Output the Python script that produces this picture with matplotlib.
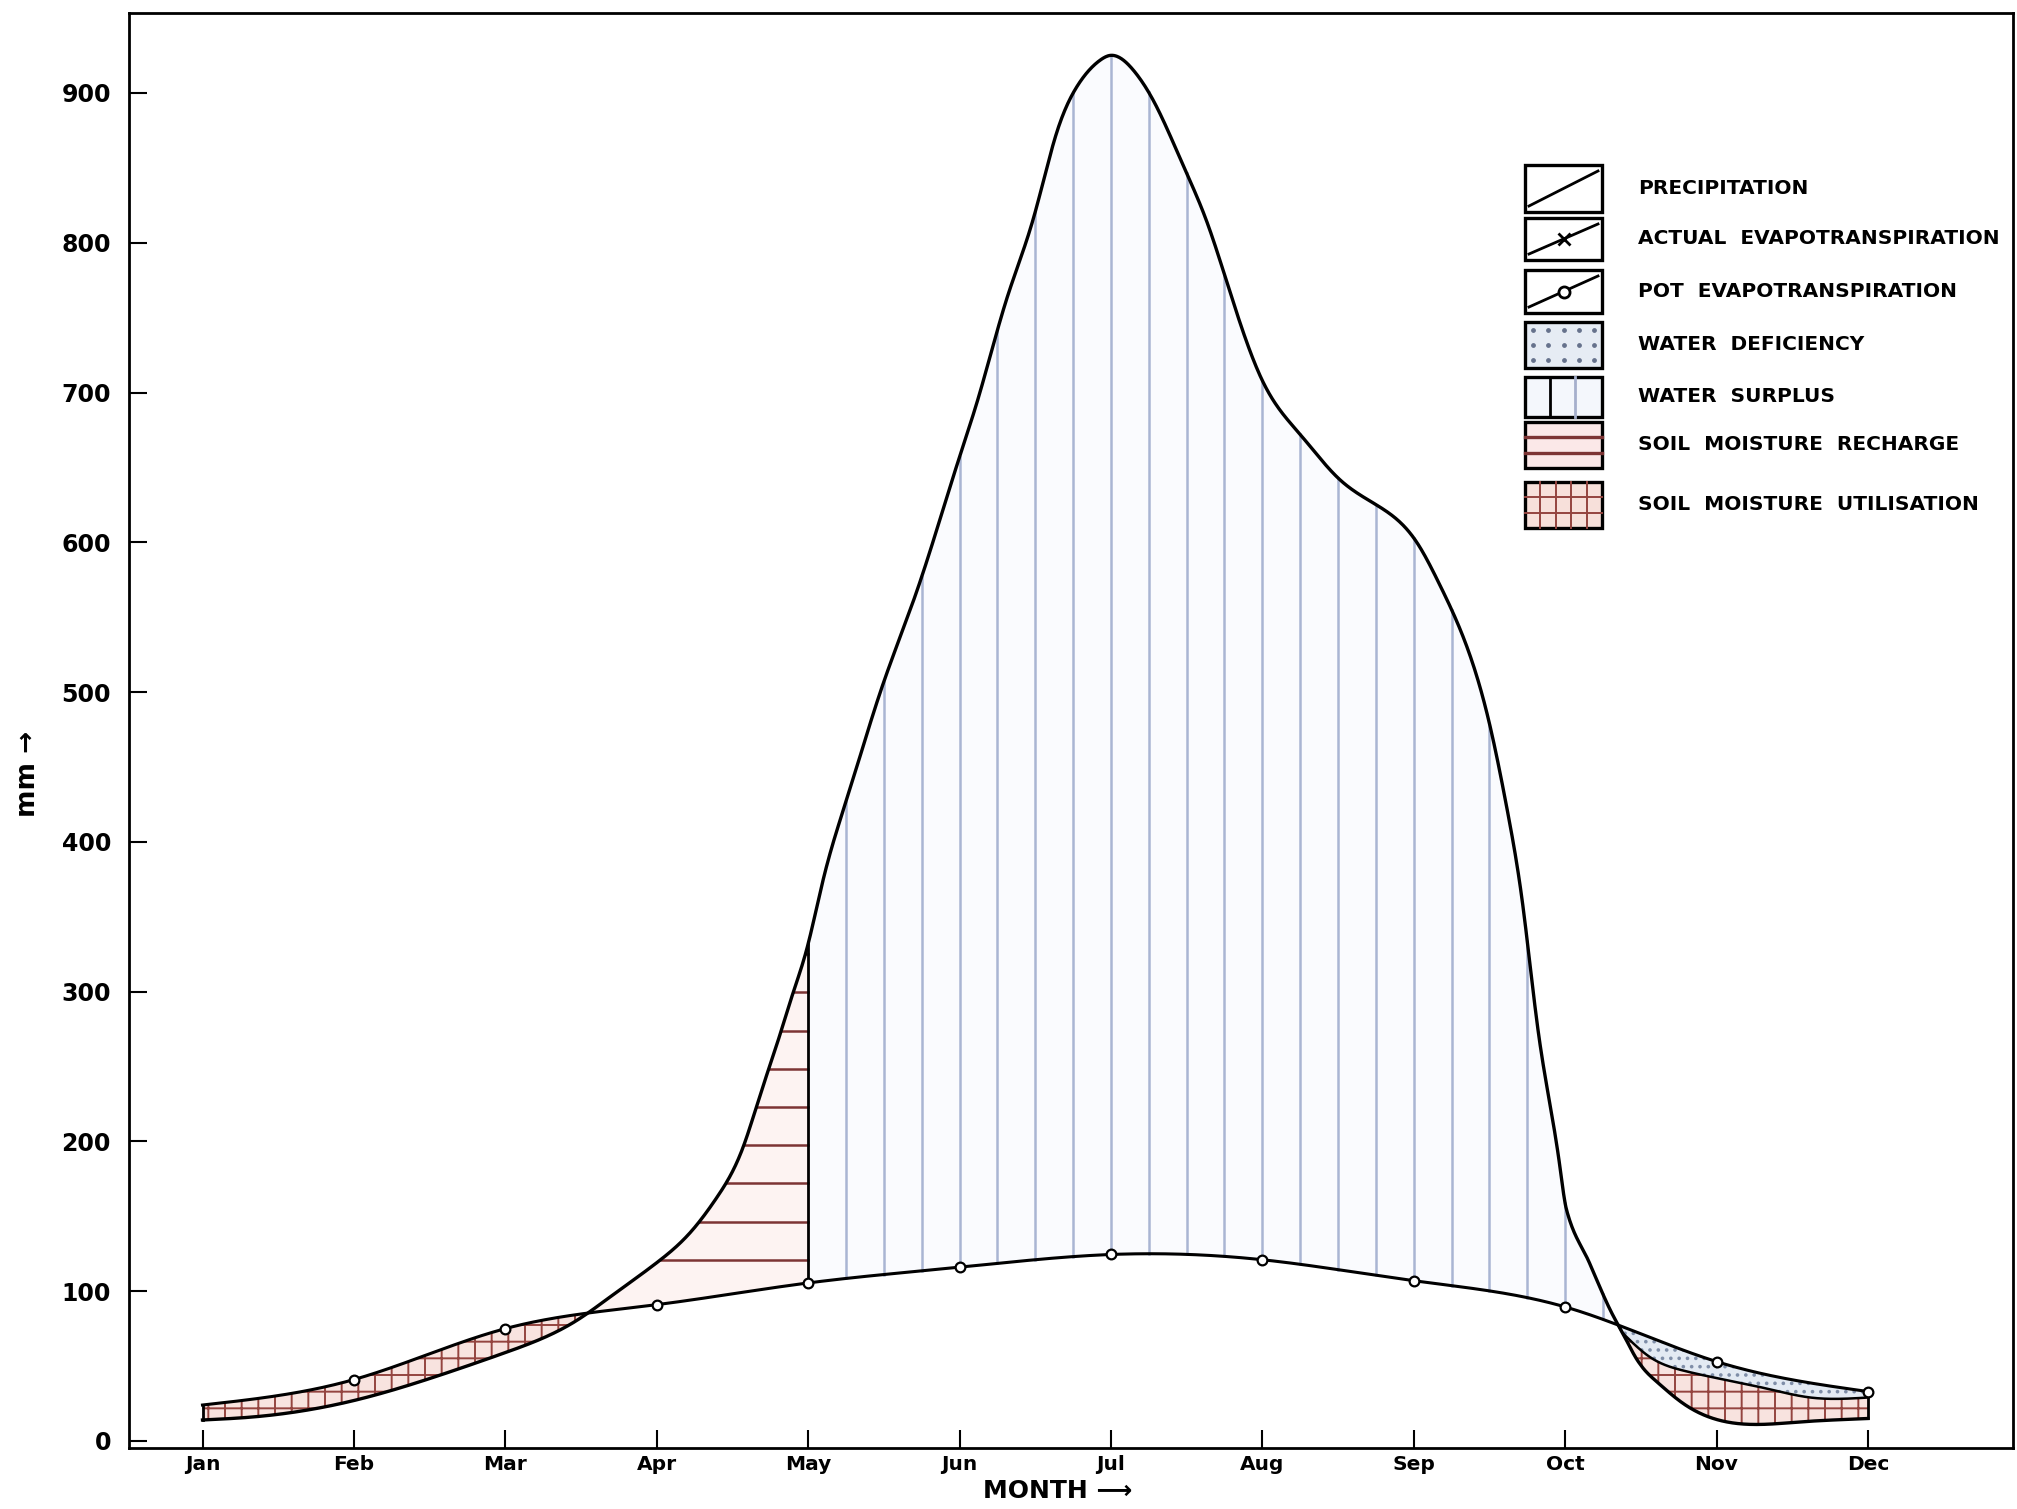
import numpy as np
import matplotlib
matplotlib.use('Agg')
import matplotlib.pyplot as plt
from matplotlib.patches import Rectangle

# month labels on the x axis
months = ['Jan', 'Feb', 'Mar', 'Apr', 'May', 'Jun',
          'Jul', 'Aug', 'Sep', 'Oct', 'Nov', 'Dec']
month_pos = np.arange(1, 13)

# precipitation curve (month position, mm)
precip_month = [1.00, 1.33, 2.00, 2.60, 3.00, 3.48, 3.69, 4.00, 4.22, 4.40,
                4.57, 4.68, 4.81, 4.90, 4.99, 5.10, 5.26, 5.48, 5.72, 6.00,
                6.12, 6.31, 6.49, 6.64, 6.78, 6.93, 6.99, 7.15, 7.28, 7.48,
                7.63, 7.79, 8.00, 8.25, 8.51, 8.80, 9.02, 9.17, 9.31, 9.50,
                9.62, 9.72, 9.82, 9.95, 10.01, 10.16, 10.30, 10.38, 10.49, 10.60,
                10.78, 11.11, 11.55, 11.77, 12.00]
precip_mm = [14, 16, 27, 45, 59, 81, 96, 119, 139, 163,
             196, 230, 270, 299, 328, 375, 430, 501, 568, 657,
             695, 762, 817, 873, 905, 922, 925, 915, 895, 851,
             815, 766, 708, 672, 642, 622, 600, 572, 541, 479,
             420, 358, 275, 194, 154, 119, 87, 72, 52, 40,
             25, 12, 12.7, 14, 15]

# potential evapotranspiration, one value per month
pet_mm = [24, 41, 75, 91, 105.5, 116, 124.5, 121, 107, 89.5, 53, 33]

# actual evapotranspiration where it falls below PET (Nov - Dec)
aet_month = [10.38, 10.56, 10.78, 11.00, 11.33, 11.62, 12.00]
aet_mm = [72, 56, 47, 42, 35, 29, 29]

legend_labels = ['PRECIPITATION', 'ACTUAL  EVAPOTRANSPIRATION',
                 'POT  EVAPOTRANSPIRATION', 'WATER  DEFICIENCY',
                 'WATER  SURPLUS', 'SOIL  MOISTURE  RECHARGE',
                 'SOIL  MOISTURE  UTILISATION']


def spline(x, y, xn):
    # natural cubic spline through the read points, for drawing only
    x = np.asarray(x, float)
    y = np.asarray(y, float)
    n = len(x)
    h = np.diff(x)
    M = np.zeros((n, n))
    r = np.zeros(n)
    M[0, 0] = M[-1, -1] = 1
    for k in range(1, n - 1):
        M[k, k - 1] = h[k - 1]
        M[k, k] = 2 * (h[k - 1] + h[k])
        M[k, k + 1] = h[k]
        r[k] = 6 * ((y[k + 1] - y[k]) / h[k] - (y[k] - y[k - 1]) / h[k - 1])
    c = np.linalg.solve(M, r)
    i = np.clip(np.searchsorted(x, xn) - 1, 0, n - 2)
    a = x[i + 1] - xn
    b = xn - x[i]
    hi = h[i]
    return (c[i] * a**3 / (6 * hi) + c[i + 1] * b**3 / (6 * hi)
            + (y[i] / hi - c[i] * hi / 6) * a + (y[i + 1] / hi - c[i + 1] * hi / 6) * b)


def pchip(x, y, xn):
    # monotone cubic, used where the curve bends sharply
    x = np.asarray(x, float)
    y = np.asarray(y, float)
    h = np.diff(x)
    d = np.diff(y) / h
    m = np.zeros_like(y)
    for k in range(1, len(x) - 1):
        if d[k - 1] * d[k] > 0:
            w1 = 2 * h[k] + h[k - 1]
            w2 = h[k] + 2 * h[k - 1]
            m[k] = (w1 + w2) / (w1 / d[k - 1] + w2 / d[k])
    m[0] = d[0]
    m[-1] = d[-1]
    i = np.clip(np.searchsorted(x, xn) - 1, 0, len(h) - 1)
    t = (xn - x[i]) / h[i]
    return ((2 * t**3 - 3 * t**2 + 1) * y[i] + (t**3 - 2 * t**2 + t) * h[i] * m[i]
            + (-2 * t**3 + 3 * t**2) * y[i + 1] + (t**3 - t**2) * h[i] * m[i + 1])


plt.rcParams['font.family'] = ['DejaVu Sans']
plt.rcParams['hatch.linewidth'] = 1.4

xs = np.linspace(1, 12, 2201)
P = spline(precip_month, precip_mm, xs)
sharp = (xs > 9.95) & (xs < 10.49)
P[sharp] = pchip(precip_month, precip_mm, xs[sharp])
E = spline(month_pos, pet_mm, xs)

# crossings of precipitation and PET
diff = P - E
cross = xs[np.where(np.diff(np.sign(diff)) != 0)[0]]
c1, c2 = cross[0], cross[-1]

A = E.copy()
late = xs >= c2
A[late] = spline(aet_month, aet_mm, xs[late])
A = np.minimum(np.maximum(A, P), E)

fig = plt.figure(figsize=(20.17, 15.09), dpi=100)
ax = fig.add_axes([129 / 2017, 61 / 1509, 1884 / 2017, 1435 / 1509])
ax.set_xlim(0.5145, 12.958)
ax.set_ylim(-4.7, 953.4)

pink = '#f8e3df'
brown = '#94443f'

# soil moisture utilisation (Jan - Mar)
m1 = xs <= c1
ax.fill_between(xs[m1], P[m1], E[m1], facecolor=pink, edgecolor=brown,
                hatch='+', linewidth=0, zorder=1)

# soil moisture recharge (Apr - May)
m2 = (xs >= c1) & (xs <= 5)
ax.fill_between(xs[m2], P[m2], E[m2], facecolor='#fdf3f2', linewidth=0, zorder=1)
for lev in np.arange(121, 330, 25.5):
    x_left = np.interp(lev, P[m2], xs[m2])
    ax.plot([x_left, 5], [lev, lev], color='#7d3434', lw=1.8, zorder=2)

# water surplus (May - Oct)
m3 = (xs >= 5) & (xs <= c2)
ax.fill_between(xs[m3], P[m3], E[m3], facecolor='#fafbfe', linewidth=0, zorder=1)
for xv in np.arange(5.25, c2, 0.25):
    ax.plot([xv, xv], [np.interp(xv, xs, E), np.interp(xv, xs, P)],
            color='#a9b5d3', lw=1.8, zorder=2)

# Nov - Dec: utilisation below AET, deficiency between AET and PET
ax.fill_between(xs[late], P[late], A[late], facecolor=pink, edgecolor=brown,
                hatch='+', linewidth=0, zorder=1)
ax.fill_between(xs[late], A[late], E[late], facecolor='#e3eaf3',
                edgecolor='#7f8ea8', hatch='..', linewidth=0, zorder=1)

# boundary lines
for xv in (1, 5, 12):
    ax.plot([xv, xv], [np.interp(xv, xs, P), np.interp(xv, xs, E)],
            color='black', lw=2, zorder=3)

ax.plot(xs, P, color='black', lw=2.4, zorder=4)
ax.plot(xs, E, color='black', lw=2.2, zorder=4)
ax.plot(xs[late], A[late], color='black', lw=1.8, zorder=4)
ax.plot(month_pos[1:], pet_mm[1:], 'o', mfc='white', mec='black', ms=7,
        mew=1.6, zorder=5)

ax.set_xticks(month_pos)
ax.set_xticklabels(months, fontsize=14.5, fontweight='bold')
ax.set_yticks(np.arange(0, 1000, 100))
ax.set_yticklabels([str(v) for v in range(0, 1000, 100)], fontsize=17,
                   fontweight='bold')
ax.tick_params(axis='both', direction='in', length=13, width=1.5)
ax.tick_params(axis='x', pad=5)
ax.tick_params(axis='y', pad=13)
for s in ax.spines.values():
    s.set_linewidth(2)

ax.text(-0.0536, 0.47, 'mm \u2192', transform=ax.transAxes, rotation=90,
        ha='center', va='center', fontsize=19, fontweight='bold')
fig.text(1058 / 2017, 1 - 1491 / 1509, 'MONTH \u27f6', ha='center',
         va='center', fontsize=18, fontweight='bold')

# legend, drawn in pixel units of its own axes
lax = fig.add_axes([1510 / 2017, 1 - 540 / 1509, 507 / 2017, 390 / 1509])
lax.set_xlim(1510, 2017)
lax.set_ylim(540, 150)
lax.axis('off')

boxes = [(165, 212), (218, 260), (270, 313), (322, 368),
         (377, 417), (422, 468), (482, 528)]
x0, x1 = 1525, 1602
faces = ['white', 'white', 'white', '#e6ecf4', '#f4f7fc', '#fbe8e8', '#f7e0da']
for (y0, y1), fc, lab in zip(boxes, faces, legend_labels):
    lax.add_patch(Rectangle((x0, y0), x1 - x0, y1 - y0, facecolor=fc,
                            edgecolor='black', lw=2.4, zorder=1))
    lax.text(1638, (y0 + y1) / 2, lab, ha='left', va='center',
             fontsize=14.5, fontweight='bold')

# precipitation, AET, PET swatches
for k, mk in ((0, None), (1, 'x'), (2, 'o')):
    y0, y1 = boxes[k]
    lax.plot([x0 + 4, x1 - 4], [y1 - 6, y0 + 6], color='black', lw=2, zorder=2)
    if mk:
        lax.plot([(x0 + x1) / 2], [(y0 + y1) / 2], mk, mfc='white',
                 mec='black', ms=8, mew=2, zorder=3)
# deficiency dots
y0, y1 = boxes[3]
gx, gy = np.meshgrid(np.linspace(x0 + 8, x1 - 8, 5), np.linspace(y0 + 8, y1 - 8, 3))
lax.scatter(gx.ravel(), gy.ravel(), s=6, color='#66728c', zorder=2)
# surplus vertical lines
y0, y1 = boxes[4]
for xv, c in ((x0 + 25, 'black'), (x0 + 50, '#a6b0cc')):
    lax.plot([xv, xv], [y0, y1], color=c, lw=2, zorder=2)
# recharge horizontal lines
y0, y1 = boxes[5]
for yv in (y0 + 15, y0 + 31):
    lax.plot([x0, x1], [yv, yv], color='#7d3434', lw=2.4, zorder=2)
# utilisation grid
y0, y1 = boxes[6]
for xv in np.linspace(x0, x1, 6)[1:-1]:
    lax.plot([xv, xv], [y0, y1], color=brown, lw=1.4, zorder=2)
for yv in np.linspace(y0, y1, 4)[1:-1]:
    lax.plot([x0, x1], [yv, yv], color=brown, lw=1.4, zorder=2)

fig.savefig('out.png', dpi=100)
